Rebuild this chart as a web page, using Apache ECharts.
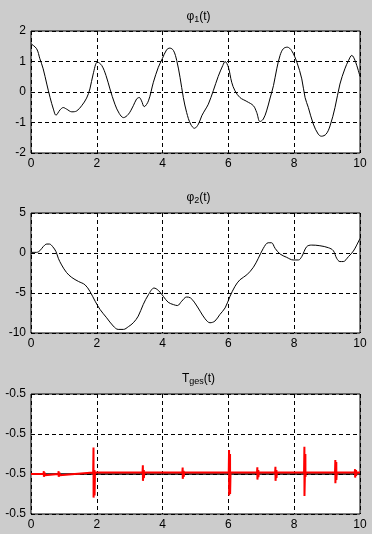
<!DOCTYPE html>
<html><head><meta charset="utf-8">
<script src="https://cdn.jsdelivr.net/npm/echarts@6/dist/echarts.min.js"></script>
<style>html,body{margin:0;padding:0;background:#cccccc;}#c{width:372px;height:534px;}</style>
</head><body><div id="c"></div>
<script>
// phi1(t)
const t1 = [0,0.17,0.27,0.37,0.48,0.58,0.68,0.76,0.88,0.98,1.08,1.24,1.39,1.54,1.69,1.79,1.89,2.02,2.15,2.28,2.40,2.55,2.68,2.81,2.96,3.11,3.21,3.29,3.36,3.44,3.57,3.72,3.87,3.99,4.12,4.22,4.33,4.43,4.53,4.63,4.73,4.85,4.97,5.09,5.19,5.29,5.39,5.54,5.69,5.83,5.90,6.00,6.10,6.20,6.35,6.56,6.76,6.86,6.96,7.06,7.16,7.26,7.37,7.47,7.57,7.67,7.79,7.92,8.08,8.23,8.33,8.43,8.58,8.73,8.83,8.97,9.09,9.24,9.39,9.54,9.65,9.75,9.85,10.0];
const phi1 = [1.58,1.42,1.09,0.76,0.26,-0.18,-0.56,-0.76,-0.59,-0.51,-0.56,-0.65,-0.62,-0.45,-0.2,0.1,0.59,0.98,0.87,0.54,0.1,-0.4,-0.7,-0.84,-0.73,-0.45,-0.23,-0.18,-0.29,-0.48,-0.29,0.32,0.81,1.09,1.38,1.44,1.36,1.03,0.48,-0.18,-0.67,-1.05,-1.19,-1.05,-0.78,-0.59,-0.4,0.04,0.51,0.87,1.0,0.81,0.32,0.04,-0.18,-0.31,-0.45,-0.67,-0.97,-0.89,-0.62,-0.23,0.21,0.76,1.2,1.42,1.47,1.36,0.98,0.43,-0.18,-0.51,-1.05,-1.38,-1.45,-1.38,-1.11,-0.51,0.26,0.76,1.03,1.2,1.03,0.51];
// phi2(t)
const t2 = [0,0.17,0.27,0.37,0.48,0.56,0.66,0.76,0.83,0.93,1.08,1.24,1.44,1.64,1.79,1.95,2.10,2.30,2.50,2.65,2.81,2.96,3.11,3.26,3.41,3.57,3.74,3.87,4.02,4.17,4.33,4.45,4.58,4.73,4.85,4.98,5.14,5.29,5.44,5.59,5.74,5.90,6.05,6.20,6.35,6.56,6.76,6.91,7.06,7.21,7.31,7.42,7.57,7.77,7.97,8.13,8.23,8.38,8.53,8.78,9.04,9.19,9.29,9.39,9.49,9.65,9.80,9.90,10.0];
const phi2 = [0.08,0.08,0.29,0.79,1.12,1.12,0.79,0.17,-0.66,-1.49,-2.44,-3.06,-3.55,-3.97,-4.79,-6.03,-7.07,-8.1,-9.13,-9.55,-9.55,-9.21,-8.72,-7.89,-6.45,-5.21,-4.38,-4.67,-5.41,-6.16,-6.45,-6.57,-6.03,-5.5,-5.62,-6.24,-7.27,-8.22,-8.72,-8.51,-7.69,-6.86,-5.41,-4.17,-3.35,-2.73,-1.78,-0.66,0.58,1.28,1.28,0.58,-0.12,-0.54,-0.87,-0.87,-0.45,0.79,0.99,0.91,0.66,0.29,-0.66,-1.07,-1.07,-0.45,0.25,0.99,1.82];
// Tges(t): reference level, baseline levels and spikes (axis units)
const refT = [0, 10];
const refLevel = [1, 1];
const baseBefore = 1.0, baseAfter = 1.04, baseSwitchT = 1.88;
const spikeT   = [0.39,0.84,1.90,3.40,4.61,5.14,6.02,6.88,7.43,8.31,9.25,9.85];
const spikeHi  = [1.07,1.07,1.66,1.22,1.16,1.05,1.60,1.17,1.18,1.68,1.35,1.12];
const spikeLo  = [0.93,0.93,0.41,0.83,0.88,1.02,0.46,0.86,0.83,0.45,0.77,0.91];
const spikeHi2 = [1.04,1.04,1.10,1.10,1.08,1.04,1.50,1.10,1.10,1.50,1.30,1.10];
const spikeLo2 = [0.97,0.97,0.46,0.90,0.93,1.02,0.50,0.92,0.90,0.93,0.85,0.95];
const yTicks3 = ['-0.5','-0.5','-0.5','-0.5'];
const xTicks = ['0','2','4','6','8','10'];

const z = (a,b)=>a.map((v,i)=>[v,b[i]]);
const tgesData = [[0, baseBefore]];
spikeT.forEach((t,i)=>{
  const b = t < baseSwitchT ? baseBefore : baseAfter;
  const b2 = t+0.06 < baseSwitchT ? baseBefore : baseAfter;
  tgesData.push([t-0.01,b],[t,spikeHi[i]],[t+0.002,spikeLo[i]],[t+0.03,spikeHi2[i]],[t+0.032,spikeLo2[i]],[t+0.045,b2]);
});
tgesData.push([10, baseAfter]);

const font = 'Liberation Sans, Arial, sans-serif';
const gridL = 31, gridW = 329;
const grids = [
  {left:gridL, top:31, width:gridW, height:122},
  {left:gridL, top:213, width:gridW, height:120},
  {left:gridL, top:394, width:gridW, height:120}
].map(g=>Object.assign(g,{show:true, backgroundColor:'#ffffff', borderColor:'#000', borderWidth:1}));

const split = {show:true, lineStyle:{color:'#000', type:[4,3], width:1}};
function xAx(i){return {type:'value', gridIndex:i, min:0, max:10, interval:2,
  axisLine:{show:false}, axisTick:{show:false}, splitLine:split,
  axisLabel:{color:'#000', fontSize:12, fontFamily:font, margin:5,
    formatter:v=>xTicks[Math.round(v/2)]}};}
function yAx(i,min,max,iv,fmt){return {type:'value', gridIndex:i, min:min, max:max, interval:iv,
  axisLine:{show:false}, axisTick:{show:false}, splitLine:split,
  axisLabel:{color:'#000', fontSize:12, fontFamily:font, margin:5, formatter:fmt}};}

const rich = {a:{fontSize:12, fontWeight:'normal', fontFamily:font, color:'#000'}, s:{fontSize:9, fontWeight:'normal', fontFamily:font, color:'#000', padding:[6,0,0,0]}};
const cx = gridL + gridW/2 - 2;
const chart = echarts.init(document.getElementById('c'));
chart.setOption({
  backgroundColor:'#cccccc',
  animation:false,
  title:[
    {text:'{a|φ}{s|1}{a|(t)}', left:cx, top:4, textAlign:'center', textStyle:{fontWeight:'normal', rich}},
    {text:'{a|φ}{s|2}{a|(t)}', left:cx, top:185, textAlign:'center', textStyle:{fontWeight:'normal', rich}},
    {text:'{a|T}{s|ges}{a|(t)}', left:cx, top:366, textAlign:'center', textStyle:{fontWeight:'normal', rich}}
  ],
  grid:grids,
  xAxis:[xAx(0),xAx(1),xAx(2)],
  yAxis:[
    yAx(0,-2,2,1),
    yAx(1,-10,5,5),
    yAx(2,0,3,1,v=>yTicks3[Math.round(v)])
  ],
  series:[
    {type:'line', xAxisIndex:0, yAxisIndex:0, data:z(t1,phi1), smooth:0.35, showSymbol:false, lineStyle:{color:'#000', width:1}},
    {type:'line', xAxisIndex:1, yAxisIndex:1, data:z(t2,phi2), smooth:0.35, showSymbol:false, lineStyle:{color:'#000', width:1}},
    {type:'line', xAxisIndex:2, yAxisIndex:2, data:z(refT,refLevel), showSymbol:false, lineStyle:{color:'#000', width:1.5}},
    {type:'line', xAxisIndex:2, yAxisIndex:2, data:tgesData, showSymbol:false, lineStyle:{color:'#ff0000', width:2, join:'bevel'}}
  ]
});
</script></body></html>
